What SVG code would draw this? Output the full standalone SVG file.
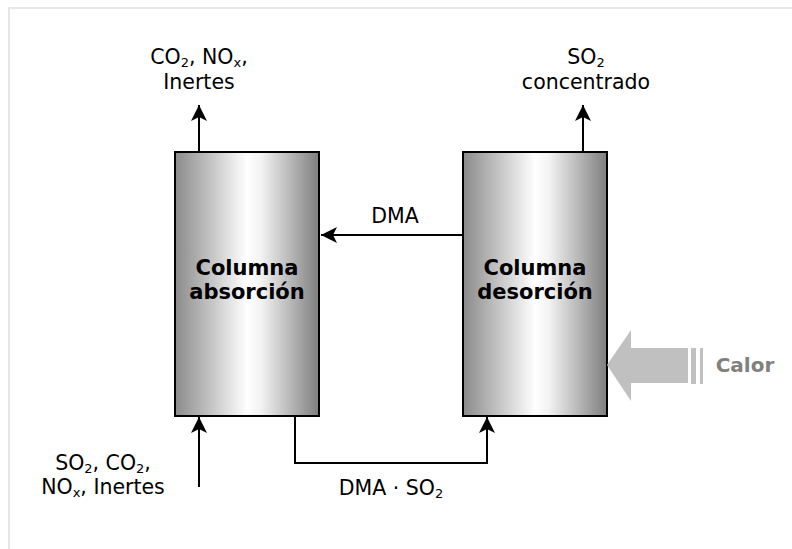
<svg xmlns="http://www.w3.org/2000/svg" width="792" height="549" viewBox="0 0 792 549">
<style>
.t{font-family:"DejaVu Sans",Verdana,sans-serif;font-size:20.5px;fill:#000;text-anchor:middle}
.b{font-family:"DejaVu Sans",Verdana,sans-serif;font-size:21px;font-weight:bold;fill:#000;text-anchor:middle}
.s{font-size:13px}
.col{fill:url(#g);stroke:#000;stroke-width:2}
.ln{fill:none;stroke:#000;stroke-width:2}
</style>
<defs>
<linearGradient id="g" x1="0" y1="0" x2="1" y2="0">
<stop offset="0" stop-color="#8a8a8a"/>
<stop offset="0.5" stop-color="#ffffff"/>
<stop offset="0.6" stop-color="#f2f2f2"/>
<stop offset="1" stop-color="#7e7e7e"/>
</linearGradient>
<marker id="ah" markerUnits="userSpaceOnUse" markerWidth="17" markerHeight="17" viewBox="-16 -8.5 17 17" refX="0" refY="0" orient="auto">
<path d="M0,0 L-16,-8 L-12,0 L-16,8 Z" fill="#000"/>
</marker>
</defs>
<rect width="792" height="549" fill="#fff"/>
<rect x="9" y="8" width="800" height="560" fill="none" stroke="#e6e6e6" stroke-width="2"/>

<g id="connectors">
<line class="ln" x1="199" y1="152" x2="199" y2="105" marker-end="url(#ah)"/>
<line class="ln" x1="583" y1="152" x2="583" y2="105" marker-end="url(#ah)"/>
<line class="ln" x1="463" y1="235" x2="321" y2="235" marker-end="url(#ah)"/>
<line class="ln" x1="199" y1="487" x2="199" y2="417" marker-end="url(#ah)"/>
<polyline class="ln" points="295,416 295,463 487,463 487,417" marker-end="url(#ah)"/>
</g>

<g id="absorcion">
<rect class="col" x="175" y="152" width="144" height="264"/>
<text class="b" x="247" y="275">Columna</text>
<text class="b" x="247" y="299">absorción</text>
</g>

<g id="desorcion">
<rect class="col" x="463" y="152" width="144" height="264"/>
<text class="b" x="535" y="275">Columna</text>
<text class="b" x="535" y="299">desorción</text>
</g>

<g id="salida-gases">
<text class="t" x="199" y="64">CO<tspan class="s" dy="3">2</tspan><tspan dy="-3">, NO</tspan><tspan class="s" dy="3">x</tspan><tspan dy="-3">,</tspan></text>
<text class="t" x="199" y="89">Inertes</text>
</g>

<g id="salida-so2">
<text class="t" x="586" y="64">SO<tspan class="s" dy="3">2</tspan></text>
<text class="t" x="586" y="89">concentrado</text>
</g>

<g id="entrada">
<text class="t" x="103" y="470">SO<tspan class="s" dy="3">2</tspan><tspan dy="-3">, CO</tspan><tspan class="s" dy="3">2</tspan><tspan dy="-3">,</tspan></text>
<text class="t" x="103" y="494">NO<tspan class="s" dy="3">x</tspan><tspan dy="-3">, Inertes</tspan></text>
</g>

<g id="dma">
<text class="t" x="395" y="223">DMA</text>
</g>

<g id="dma-so2">
<text class="t" x="391" y="495">DMA · SO<tspan class="s" dy="3">2</tspan></text>
</g>

<g id="calor">
<path d="M607,365 L631,330 L631,348 L688,348 L688,383 L631,383 L631,401 Z" fill="#c0c0c0"/>
<rect x="691" y="348" width="5" height="36" fill="#c0c0c0"/>
<rect x="700" y="348" width="3" height="36" fill="#c0c0c0"/>
<text x="745" y="372" font-family="DejaVu Sans,Verdana,sans-serif" font-size="20" font-weight="bold" fill="#808080" text-anchor="middle">Calor</text>
</g>
</svg>
